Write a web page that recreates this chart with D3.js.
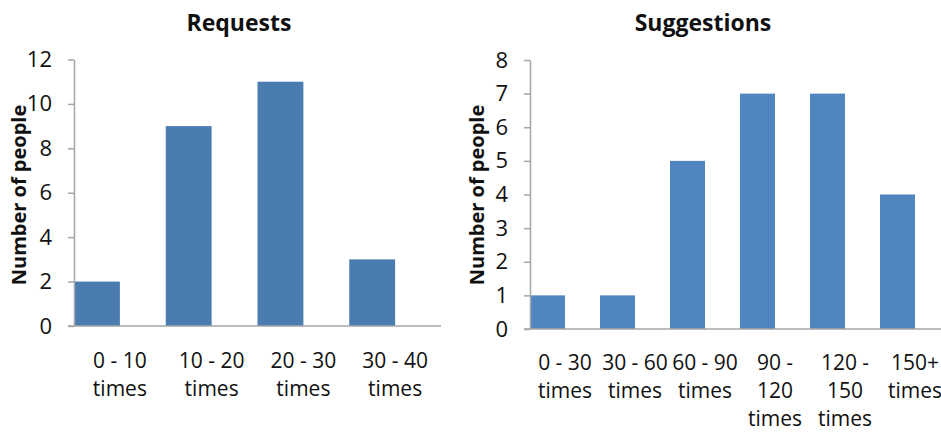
<!DOCTYPE html>
<html>
<head>
<meta charset="utf-8">
<script src="https://cdn.jsdelivr.net/npm/d3@7"></script>
<style>
  body { margin: 0; background: #fff; }
  svg { display: block; font-family: "Open Sans", sans-serif; }
</style>
</head>
<body>
<div id="chart"></div>
<script>
const requestCategories = ["0 - 10|times", "10 - 20|times", "20 - 30|times", "30 - 40|times"];
const requestValues = [2, 9, 11, 3];
const requestTicks = [0, 2, 4, 6, 8, 10, 12];

const suggestionCategories = ["0 - 30|times", "30 - 60|times", "60 - 90|times", "90 -|120|times", "120 -|150|times", "150+|times"];
const suggestionValues = [1, 1, 5, 7, 7, 4];
const suggestionTicks = [0, 1, 2, 3, 4, 5, 6, 7, 8];

const svg = d3.select("#chart").append("svg")
  .attr("width", 941)
  .attr("height", 432);

function drawPanel(opts) {
  const g = svg.append("g");

  const x = d3.scaleBand()
    .domain(opts.categories)
    .range([opts.left, opts.right])
    .paddingInner(0)
    .paddingOuter(0);

  const y = d3.scaleLinear()
    .domain([0, opts.max])
    .range([opts.bottom, opts.top]);

  // bars sit at the left half of each band
  g.selectAll(".bar")
    .data(opts.categories.map((c, i) => ({ c, v: opts.values[i] })))
    .enter()
    .append("rect")
    .attr("class", "bar")
    .attr("x", d => x(d.c))
    .attr("y", d => y(d.v))
    .attr("width", x.bandwidth() * 0.5)
    .attr("height", d => y(0) - y(d.v))
    .attr("fill", opts.color);

  // y axis
  const yAxis = g.append("g")
    .attr("transform", `translate(${opts.left},0)`)
    .call(d3.axisLeft(y).tickValues(opts.ticks).tickSize(6).tickPadding(16).tickSizeOuter(0));
  yAxis.select(".domain").attr("stroke", "#a6a6a6").attr("stroke-width", 1.5);
  yAxis.selectAll(".tick line").attr("stroke", "#a6a6a6").attr("stroke-width", 1.5);
  yAxis.selectAll(".tick text")
    .attr("fill", "#111")
    .style("font-size", "22px")
    .style("font-family", "'Open Sans', sans-serif");

  // x axis line
  const xAxis = g.append("g")
    .attr("transform", `translate(0,${opts.bottom})`)
    .call(d3.axisBottom(x).tickSize(0).tickFormat(() => ""));
  xAxis.select(".domain")
    .attr("d", `M${opts.left - 6},0H${opts.axisEnd}`)
    .attr("stroke", "#a6a6a6")
    .attr("stroke-width", 1.5);

  // category labels
  g.selectAll(".cat")
    .data(opts.categories)
    .enter()
    .append("text")
    .attr("class", "cat")
    .attr("x", d => x(d) + x.bandwidth() / 2)
    .attr("y", opts.labelY)
    .attr("text-anchor", "middle")
    .attr("fill", "#111")
    .style("font-size", "21px")
    .each(function(d) {
      const t = d3.select(this);
      d.split("|").forEach((line, i) => {
        t.append("tspan")
          .attr("x", x(d) + x.bandwidth() / 2)
          .attr("dy", i === 0 ? 0 : 28)
          .text(line);
      });
    });

  // title
  g.append("text")
    .attr("x", opts.titleX)
    .attr("y", 31)
    .attr("text-anchor", "middle")
    .attr("fill", "#111")
    .style("font-size", "23px")
    .style("font-weight", "bold")
    .text(opts.title);

  // y label
  g.append("text")
    .attr("transform", `translate(${opts.yLabelX},${opts.yLabelY}) rotate(-90)`)
    .attr("text-anchor", "middle")
    .attr("fill", "#111")
    .style("font-size", "20px")
    .style("font-weight", "bold")
    .text("Number of people");
}

drawPanel({
  categories: requestCategories, values: requestValues, ticks: requestTicks, max: 12,
  left: 74, right: 441, axisEnd: 441, top: 59.5, bottom: 326,
  color: "#4a7cb0", title: "Requests", titleX: 239,
  yLabelX: 26, yLabelY: 195, labelY: 368
});

drawPanel({
  categories: suggestionCategories, values: suggestionValues, ticks: suggestionTicks, max: 8,
  left: 530, right: 950, axisEnd: 941, top: 60, bottom: 329,
  color: "#4f86c0", title: "Suggestions", titleX: 703,
  yLabelX: 484, yLabelY: 195, labelY: 370
});
</script>
</body>
</html>
